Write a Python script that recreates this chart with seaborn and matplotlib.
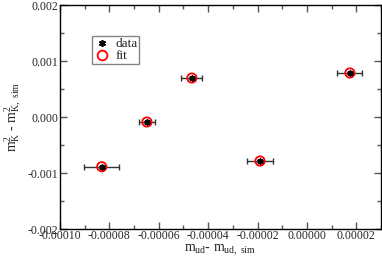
import matplotlib
matplotlib.use("Agg")
import matplotlib.pyplot as plt
import seaborn as sns
import pandas as pd
import numpy as np
from matplotlib.ticker import MultipleLocator, FormatStrFormatter
from matplotlib.lines import Line2D

# data
dm_ud = [-0.0000831, -0.0000648, -0.0000466, -0.0000190, 0.0000174]
dm_ud_err = [0.0000070, 0.0000034, 0.0000043, 0.0000051, 0.0000051]
dmK2 = [-0.000888, -0.000089, 0.000696, -0.000786, 0.000786]
fit_vals = [-0.000888, -0.000089, 0.000696, -0.000786, 0.000786]

sns.set_style("ticks")
plt.rcParams['font.family'] = ['Liberation Serif', 'DejaVu Serif']
plt.rcParams['mathtext.fontset'] = 'custom'
plt.rcParams['mathtext.rm'] = 'Liberation Serif'
plt.rcParams['mathtext.it'] = 'Liberation Serif'

df = pd.DataFrame({"x": dm_ud, "y": dmK2, "fit": fit_vals, "xerr": dm_ud_err})

fig = plt.figure(figsize=(3.82, 2.58), dpi=100)
ax = fig.add_axes([60/382, 1-229/258, (381-60)/382, (229-5)/258])

ax.errorbar(df["x"], df["y"], xerr=df["xerr"], fmt="none", ecolor="#333333",
            elinewidth=1.0, capsize=2.5, capthick=1.0, zorder=2)
sns.scatterplot(data=df, x="x", y="fit", ax=ax, marker="o", s=45,
                facecolor="none", edgecolor="red", linewidth=1.3, zorder=3,
                legend=False)
sns.scatterplot(data=df, x="x", y="y", ax=ax, marker=(6, 2, 0), s=12,
                color="black", edgecolor="black", linewidth=1.3, zorder=4,
                legend=False)

ax.set_xlim(-0.0001, 0.00003)
ax.set_ylim(-0.002, 0.002)
ax.xaxis.set_major_locator(MultipleLocator(0.00002))
ax.xaxis.set_minor_locator(MultipleLocator(0.00001))
ax.yaxis.set_major_locator(MultipleLocator(0.001))
ax.yaxis.set_minor_locator(MultipleLocator(0.0005))
ax.xaxis.set_major_formatter(FormatStrFormatter("%.5f"))
ax.yaxis.set_major_formatter(FormatStrFormatter("%.3f"))
ax.set_xticks([-0.0001, -0.00008, -0.00006, -0.00004, -0.00002, 0.0, 0.00002])
ax.tick_params(which="both", direction="in", top=True, right=True, labelsize=8.5,
               pad=1, color="#555555")
ax.tick_params(which="major", length=5, width=1)
ax.tick_params(which="minor", length=3, width=1)
for s in ax.spines.values():
    s.set_linewidth(1.0)
    s.set_color("black")

ax.set_xlabel(r"m$_\mathrm{ud}$- m$_\mathrm{ud,\ sim}$", fontsize=10, labelpad=0)
ax.set_ylabel(r"m$^2_\mathrm{K}$ - m$^2_\mathrm{K,\ sim}$", fontsize=10, labelpad=3)

handles = [Line2D([], [], marker=(6, 2, 0), color="black", linestyle="none",
                  markersize=5, markeredgewidth=1.2),
           Line2D([], [], marker="o", markerfacecolor="none", markeredgecolor="red",
                  linestyle="none", markersize=7, markeredgewidth=1.3)]
leg = ax.legend(handles, ["data", "fit"], loc="upper left",
                bbox_to_anchor=((92-60)/321, 1-(36-5)/224), fontsize=9.5,
                frameon=True, fancybox=False, edgecolor="#666666",
                handletextpad=0.4, borderpad=0.15, labelspacing=0.0,
                handlelength=1.2, borderaxespad=0)
leg.get_frame().set_linewidth(1.0)

fig.savefig("out.png", dpi=100)
